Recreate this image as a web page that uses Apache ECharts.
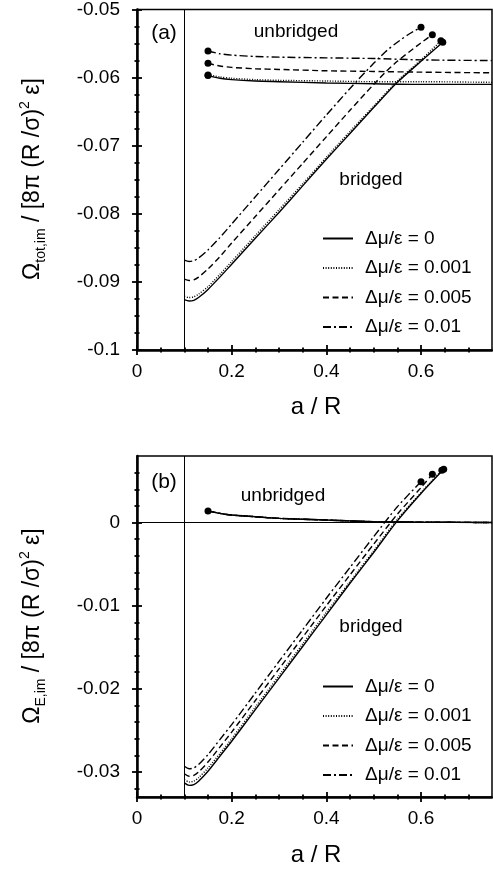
<!DOCTYPE html>
<html>
<head>
<meta charset="utf-8">
<script src="https://cdn.jsdelivr.net/npm/echarts@6/dist/echarts.min.js"></script>
<style>
  html, body { margin: 0; padding: 0; background: #fff; }
  #main { width: 493px; height: 880px; }
</style>
</head>
<body>
<div id="main"></div>
<script>
// legend names
var names = ['Δμ/ε = 0', 'Δμ/ε = 0.001', 'Δμ/ε = 0.005', 'Δμ/ε = 0.01'];

// (a) total grand potential, bridged branch [a/R, value]
var topBridged0 = [[0.1,-0.0926],[0.11,-0.0928],[0.12,-0.0927],[0.13,-0.0923],[0.15,-0.0911],[0.175,-0.0893],[0.2,-0.0874],[0.25,-0.0836],[0.3,-0.0798],[0.35,-0.0759],[0.4,-0.0720],[0.45,-0.0682],[0.5,-0.0644],[0.55,-0.0607],[0.6,-0.0576],[0.646,-0.0548]];
var topBridged001 = [[0.1,-0.0921],[0.11,-0.0923],[0.12,-0.0922],[0.13,-0.0918],[0.15,-0.0907],[0.175,-0.0889],[0.2,-0.0870],[0.25,-0.0832],[0.3,-0.0794],[0.35,-0.0756],[0.4,-0.0717],[0.45,-0.0679],[0.5,-0.0642],[0.55,-0.0605],[0.6,-0.0574],[0.642,-0.0546]];
var topBridged005 = [[0.1,-0.0896],[0.11,-0.0898],[0.12,-0.0897],[0.13,-0.0893],[0.15,-0.0881],[0.175,-0.0863],[0.2,-0.0843],[0.25,-0.0804],[0.3,-0.0765],[0.35,-0.0726],[0.4,-0.0687],[0.45,-0.0648],[0.5,-0.0610],[0.525,-0.0592],[0.55,-0.0576],[0.6,-0.0549],[0.624,-0.0537]];
var topBridged01 = [[0.1,-0.0868],[0.11,-0.0870],[0.12,-0.0869],[0.13,-0.0865],[0.15,-0.0853],[0.175,-0.0835],[0.2,-0.0815],[0.25,-0.0775],[0.3,-0.0735],[0.35,-0.0695],[0.4,-0.0655],[0.45,-0.0616],[0.5,-0.0579],[0.525,-0.0562],[0.55,-0.0548],[0.575,-0.0536],[0.6,-0.0526]];

// (a) unbridged branch
var topUnbr0 = [[0.15,-0.0597],[0.175,-0.0601],[0.2,-0.0603],[0.25,-0.0605],[0.3,-0.0606],[0.4,-0.0608],[0.5,-0.0609],[0.6,-0.0610],[0.75,-0.0610]];
var topUnbr001 = [[0.15,-0.0596],[0.175,-0.0599],[0.2,-0.0601],[0.25,-0.0603],[0.3,-0.0604],[0.4,-0.0605],[0.5,-0.0606],[0.6,-0.0606],[0.75,-0.0607]];
var topUnbr005 = [[0.15,-0.0579],[0.175,-0.0583],[0.2,-0.0585],[0.25,-0.0587],[0.3,-0.0588],[0.4,-0.0590],[0.5,-0.0591],[0.6,-0.0592],[0.75,-0.0593]];
var topUnbr01 = [[0.15,-0.0561],[0.175,-0.0565],[0.2,-0.0567],[0.25,-0.0569],[0.3,-0.0570],[0.4,-0.0571],[0.5,-0.0572],[0.6,-0.0574],[0.75,-0.0575]];

// (b) energy part, bridged branch
var botBridged0 = [[0.1,-0.0313],[0.11,-0.0316],[0.12,-0.0315],[0.13,-0.0311],[0.15,-0.0299],[0.175,-0.0281],[0.2,-0.0263],[0.25,-0.0225],[0.3,-0.0187],[0.35,-0.0149],[0.4,-0.0111],[0.45,-0.0073],[0.5,-0.0036],[0.55,0.0002],[0.6,0.0035],[0.648,0.0064]];
var botBridged001 = [[0.1,-0.0309],[0.11,-0.0312],[0.12,-0.0311],[0.13,-0.0307],[0.15,-0.0295],[0.175,-0.0278],[0.2,-0.0260],[0.25,-0.0222],[0.3,-0.0184],[0.35,-0.0146],[0.4,-0.0108],[0.45,-0.0071],[0.5,-0.0034],[0.55,0.0004],[0.6,0.0036],[0.644,0.0063]];
var botBridged005 = [[0.1,-0.0302],[0.11,-0.0305],[0.12,-0.0304],[0.13,-0.0300],[0.15,-0.0288],[0.175,-0.0270],[0.2,-0.0252],[0.25,-0.0214],[0.3,-0.0176],[0.35,-0.0138],[0.4,-0.0100],[0.45,-0.0063],[0.5,-0.0026],[0.55,0.0010],[0.6,0.0042],[0.624,0.0058]];
var botBridged01 = [[0.1,-0.0293],[0.11,-0.0296],[0.12,-0.0295],[0.13,-0.0291],[0.15,-0.0279],[0.175,-0.0261],[0.2,-0.0243],[0.25,-0.0205],[0.3,-0.0167],[0.35,-0.0129],[0.4,-0.0091],[0.45,-0.0054],[0.5,-0.0017],[0.55,0.0019],[0.6,0.0049]];

// (b) unbridged branch (all four practically coincide)
var botUnbr = [[0.15,0.0014],[0.175,0.0011],[0.2,0.0009],[0.25,0.0007],[0.3,0.0005],[0.4,0.0003],[0.5,0.0001],[0.6,0.00005],[0.75,0.0]];

// tick values
var xTickLabels = [0, 0.2, 0.4, 0.6];
var xMinorTicks = [0.05, 0.1, 0.15, 0.25, 0.3, 0.35, 0.45, 0.5, 0.55, 0.65, 0.7];
var topYTickLabels = [-0.1, -0.09, -0.08, -0.07, -0.06, -0.05];
var topYMinorTicks = [-0.0975, -0.095, -0.0925, -0.0875, -0.085, -0.0825, -0.0775, -0.075, -0.0725, -0.0675, -0.065, -0.0625, -0.0575, -0.055, -0.0525];
var botYTickLabels = [-0.03, -0.02, -0.01, 0];
var botYMinorTicks = [-0.032, -0.028, -0.026, -0.024, -0.022, -0.018, -0.016, -0.014, -0.012, -0.008, -0.006, -0.004, -0.002, 0.002, 0.004, 0.006];

var FONT = 'Liberation Sans, Arial, Helvetica, sans-serif';
var dashes = ['solid', [1, 1.6], [6, 3.5], [8, 3, 2, 3]];

// one axis with labels + line, plus extra axes only for ticks (inside/outside, major/minor)
function axisSet(dim, gridIndex, min, max, majors, minors) {
    var pos = dim === 'x' ? 'bottom' : 'left';
    function ax(o) {
        var a = {type: 'value', gridIndex: gridIndex, min: min, max: max, position: pos,
                 splitLine: {show: false}, axisLine: {show: false, onZero: false},
                 axisLabel: {show: false}};
        for (var k in o) a[k] = o[k];
        return a;
    }
    var tick = function (vals, len, inside) {
        return {show: true, customValues: vals, length: len, inside: inside,
                lineStyle: {color: '#000', width: 1.8}};
    };
    return [
        ax({axisLine: {show: true, onZero: false, lineStyle: {color: '#000', width: 2.5}},
            axisTick: tick(majors, 5, false),
            axisLabel: {show: true, customValues: majors, color: '#000', fontSize: 19,
                        fontFamily: FONT, margin: dim === 'x' ? 12 : 17}}),
        ax({axisTick: tick(majors, 5, true)}),
        ax({axisTick: tick(minors, 2.5, false)}),
        ax({axisTick: tick(minors, 2.5, true)})
    ];
}

var xAxes = axisSet('x', 0, 0, 0.75, xTickLabels, xMinorTicks)
    .concat(axisSet('x', 1, 0, 0.75, xTickLabels, xMinorTicks));
var yAxes = axisSet('y', 0, -0.1, -0.05, topYTickLabels, topYMinorTicks)
    .concat(axisSet('y', 1, -0.033, 0.008, botYTickLabels, botYMinorTicks));

function lineSeries(name, data, i, axisIdx) {
    return {
        type: 'line', name: name, data: data, xAxisIndex: axisIdx, yAxisIndex: axisIdx,
        symbol: 'none', smooth: 0.25,
        lineStyle: {color: '#000', width: 1.4, type: dashes[i]},
        itemStyle: {color: '#000'}
    };
}

var topB = [topBridged0, topBridged001, topBridged005, topBridged01];
var topU = [topUnbr0, topUnbr001, topUnbr005, topUnbr01];
var botB = [botBridged0, botBridged001, botBridged005, botBridged01];

var series = [];
for (var i = 0; i < 4; i++) {
    series.push(lineSeries(names[i], topB[i], i, 0));
    series.push(lineSeries(names[i], topU[i], i, 0));
    series.push(lineSeries(names[i], botB[i], i, 4));
    series.push(lineSeries(names[i], botUnbr, i, 4));
}

var topDots = [], botDots = [botUnbr[0]];
for (var j = 0; j < 4; j++) {
    topDots.push(topU[j][0]);
    topDots.push(topB[j][topB[j].length - 1]);
    botDots.push(botB[j][botB[j].length - 1]);
}
var refLine = {color: '#000', type: 'solid', width: 1};
var dotStyle = {color: '#000', opacity: 1, borderWidth: 0};
series.push({
    type: 'scatter', name: 'dotsA', data: topDots, xAxisIndex: 0, yAxisIndex: 0,
    symbolSize: 7, itemStyle: dotStyle, z: 5,
    markLine: {silent: true, symbol: 'none', label: {show: false}, lineStyle: refLine,
               data: [{xAxis: 0.1}]}
});
series.push({
    type: 'scatter', name: 'dotsB', data: botDots, xAxisIndex: 4, yAxisIndex: 4,
    symbolSize: 7, itemStyle: dotStyle, z: 5,
    markLine: {silent: true, symbol: 'none', label: {show: false}, lineStyle: refLine,
               data: [{xAxis: 0.1}, {yAxis: 0}]}
});

function legendAt(top) {
    return {
        data: names, orient: 'vertical', left: 317, top: top,
        itemWidth: 30, itemHeight: 14, itemGap: 10.5,
        itemStyle: {color: 'rgba(0,0,0,0)', borderWidth: 0},
        textStyle: {fontSize: 19, color: '#000', fontFamily: FONT, padding: [0, 0, 0, 7]}
    };
}

function txt(x, y, s, size) {
    return {type: 'text', x: x, y: y, silent: true,
            style: {text: s, fill: '#000', fontSize: size, fontFamily: FONT,
                    align: 'center', verticalAlign: 'middle',
                    textAlign: 'center', textVerticalAlign: 'middle'}};
}
var rich = {
    o: {fontSize: 23, fontFamily: FONT, fill: '#000', color: '#000', lineHeight: 30},
    s: {fontSize: 14, fontFamily: FONT, fill: '#000', color: '#000', verticalAlign: 'bottom', lineHeight: 16},
    p: {fontSize: 14, fontFamily: FONT, fill: '#000', color: '#000', verticalAlign: 'top', lineHeight: 16}
};
function yTitle(y, sub) {
    return {type: 'text', x: 33, y: y, rotation: Math.PI / 2, silent: true,
            style: {text: '{o|Ω}{s|' + sub + '}{o| / [8π (R /σ)}{p|2}{o| ε]}', rich: rich,
                    align: 'center', verticalAlign: 'middle',
                    textAlign: 'center', textVerticalAlign: 'middle'}};
}

var myChart = echarts.init(document.getElementById('main'));
var option = {
    animation: false,
    backgroundColor: '#fff',
    grid: [
        {left: 137, top: 8, width: 355, height: 342, show: true, borderColor: '#000', borderWidth: 1.5},
        {left: 137, top: 456, width: 355, height: 341, show: true, borderColor: '#000', borderWidth: 1.5}
    ],
    xAxis: xAxes,
    yAxis: yAxes,
    legend: [legendAt(224), legendAt(672)],
    series: series,
    graphic: [
        txt(164, 33, '(a)', 21),
        txt(296, 32, 'unbridged', 19),
        txt(371, 180, 'bridged', 19),
        txt(164, 482, '(b)', 21),
        txt(283, 496, 'unbridged', 19),
        txt(371, 627, 'bridged', 19),
        txt(316, 407, 'a / R', 24),
        txt(316, 855, 'a / R', 24),
        yTitle(179, 'tot,im'),
        yTitle(626, 'E,im')
    ]
};
myChart.setOption(option);
</script>
</body>
</html>
